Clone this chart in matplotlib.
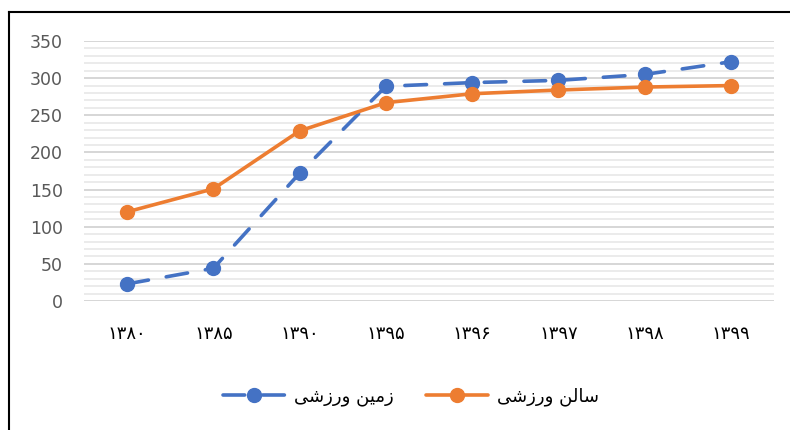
import matplotlib
matplotlib.use("Agg")
import matplotlib.pyplot as plt
from matplotlib.lines import Line2D
from matplotlib.ticker import MultipleLocator

years = ["۱۳۸۰", "۱۳۸۵", "۱۳۹۰", "۱۳۹۵", "۱۳۹۶", "۱۳۹۷", "۱۳۹۸", "۱۳۹۹"]
zamin_varzeshi = [23, 44, 172, 289, 294, 297, 305, 322]
salon_varzeshi = [120, 151, 229, 267, 279, 284, 288, 290]
# Labels pre-shaped (Arabic presentation forms, visual order) since matplotlib has no bidi/shaping
label_zamin = "\uFEF0\uFEB7\uFEAF\uFEAD\uFEED \uFEE6\uFEF4\uFEE3\uFEAF"   # زمین ورزشی
label_salon = "\uFEF0\uFEB7\uFEAF\uFEAD\uFEED \uFEE6\uFEDF\uFE8E\uFEB3"   # سالن ورزشی
yticks = [0, 50, 100, 150, 200, 250, 300, 350]

fig = plt.figure(figsize=(7.9, 4.3), dpi=100)
ax = fig.add_axes([84/790, 1-301/430, (774-84)/790, (301-41)/430])

x = list(range(len(years)))
ax.plot(x, zamin_varzeshi, color="#4472C4", lw=2.6, linestyle=(0, (6, 5)),
        dash_capstyle="round", marker="o", markersize=10, label=label_zamin, zorder=3)
ax.plot(x, salon_varzeshi, color="#ED7D31", lw=2.6, solid_capstyle="round",
        marker="o", markersize=10, label=label_salon, zorder=4)

ax.set_xlim(-0.5, len(years) - 0.5)
ax.set_ylim(0, 350)
ax.set_yticks(yticks)
ax.yaxis.set_minor_locator(MultipleLocator(10))
ax.set_xticks(x)
ax.set_xticklabels(years, fontsize=13, color="#000000", family=["DejaVu Sans"])
ax.tick_params(axis="x", length=0, pad=17)
ax.tick_params(axis="y", which="both", length=0, pad=15, labelsize=12.5, labelcolor="#595959")
ax.grid(axis="y", which="major", color="#d6d6d6", lw=1.4)
ax.grid(axis="y", which="minor", color="#ebebeb", lw=1.4)
ax.set_axisbelow(True)
for s in ax.spines.values():
    s.set_visible(False)

leg = fig.legend(loc="center", bbox_to_anchor=(411/790, 1-397/430), ncol=2, frameon=False,
                 prop={"family": ["DejaVu Sans"], "size": 13}, handlelength=3.4,
                 columnspacing=1.8, handletextpad=0.5)

# outer frame (partially visible)
fig.add_artist(Line2D([8.5/790, 8.5/790], [0, 1-12/430], color="black", lw=1.5, transform=fig.transFigure))
fig.add_artist(Line2D([8.5/790, 1], [1-12/430, 1-12/430], color="black", lw=1.5, transform=fig.transFigure))

fig.savefig("out.png", dpi=100)
